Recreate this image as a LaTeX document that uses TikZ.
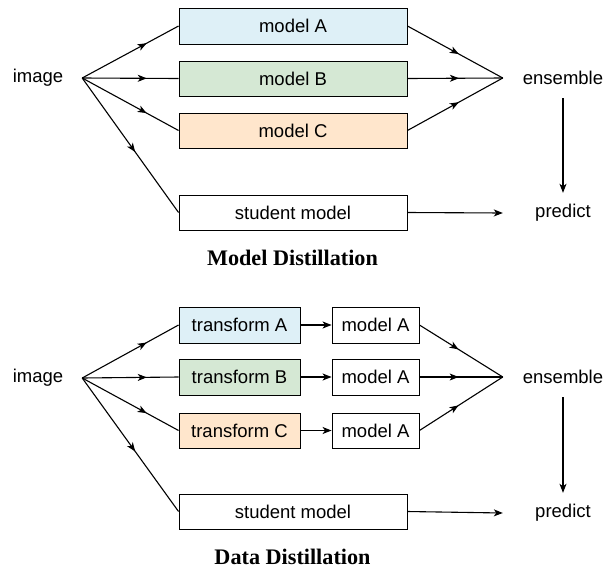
\documentclass[tikz,border=0pt]{standalone}
\usepackage{fontspec}
\setmainfont{Liberation Sans}
\newfontfamily\titlefont{Liberation Serif}
\usetikzlibrary{arrows.meta,decorations.markings}
\definecolor{cblue}{RGB}{222,240,247}
\definecolor{cgreen}{RGB}{213,232,212}
\definecolor{corange}{RGB}{255,230,204}
\tikzset{
  box/.style={draw=black, line width=0.9pt, inner sep=0pt, minimum height=36pt,
    font=\fontsize{18.5}{20}\selectfont, text=black},
  lbl/.style={inner sep=0pt, minimum height=40pt, font=\fontsize{18.5}{20}\selectfont},
  ttl/.style={inner sep=0pt, anchor=base, font=\titlefont\bfseries\fontsize{22.2}{24}\selectfont},
  conn/.style={line width=1.1pt},
  midarr/.style={conn, decoration={markings, mark=at position #1 with {\arrow{Stealth[length=9pt,width=7pt,inset=2.5pt]}}}, postaction={decorate}},
  endarr/.style={conn, -{Stealth[length=9pt,width=7pt,inset=2.5pt]}}
}
\begin{document}
\begin{tikzpicture}[x=1pt,y=-1pt]
\useasboundingbox (0,0) rectangle (613,568);
\fill[white] (0,0) rectangle (613,568);

% ---------- Model Distillation ----------
\node[lbl, minimum width=88pt] (img1) at (38,78) {image};
\node[box, fill=cblue, minimum width=228pt] (mA) at (293,26) {model A};
\node[box, fill=cgreen, minimum width=228pt, minimum height=35pt] (mB) at (293,78.5) {model B};
\node[box, fill=corange, minimum width=228pt, minimum height=35pt] (mC) at (293,130.5) {model C};
\node[box, fill=white, minimum width=228pt, minimum height=35pt] (st1) at (293,212.5) {student model};
\node[lbl, minimum width=120pt] (ens1) at (563,78) {ensemble};
\node[lbl, minimum width=120pt] (pr1) at (563,213) {predict};
\node[ttl] (t1) at (292.5,265) {Model Distillation};

\draw[midarr=0.67] (img1.east) -- (mA.west);
\draw[midarr=0.67] (img1.east) -- (mB.west);
\draw[midarr=0.67] (img1.east) -- (mC.west);
\draw[midarr=0.55] (img1.east) -- (st1.west);
\draw[midarr=0.54] (mA.east) -- (ens1.west);
\draw[midarr=0.54] (mB.east) -- (ens1.west);
\draw[midarr=0.54] (mC.east) -- (ens1.west);
\draw[endarr] (ens1.south) -- (pr1.north);
\draw[endarr] (st1.east) -- (pr1.west);

% ---------- Data Distillation ----------
\node[lbl, minimum width=88pt] (img2) at (38,378) {image};
\node[box, fill=cblue, minimum width=121pt] (tA) at (239.5,325) {transform A};
\node[box, fill=cgreen, minimum width=121pt] (tB) at (239.5,377) {transform B};
\node[box, fill=corange, minimum width=121pt, minimum height=35pt] (tC) at (239.5,430.5) {transform C};
\node[box, fill=white, minimum width=87pt] (dA) at (375.5,325) {model A};
\node[box, fill=white, minimum width=87pt] (dB) at (375.5,377) {model A};
\node[box, fill=white, minimum width=87pt, minimum height=35pt] (dC) at (375.5,430.5) {model A};
\node[box, fill=white, minimum width=228pt, minimum height=35pt] (st2) at (293,511.5) {student model};
\node[lbl, minimum width=120pt] (ens2) at (563,377) {ensemble};
\node[lbl, minimum width=120pt] (pr2) at (563,513) {predict};
\node[ttl] (t2) at (292.5,564) {Data Distillation};

\draw[midarr=0.67] (img2.east) -- (tA.west);
\draw[midarr=0.67] (img2.east) -- (tB.west);
\draw[midarr=0.67] (img2.east) -- (tC.west);
\draw[midarr=0.55] (img2.east) -- (st2.west);
\draw[endarr] (tA.east) -- (dA.west);
\draw[endarr] (tB.east) -- (dB.west);
\draw[endarr] (tC.east) -- (dC.west);
\draw[midarr=0.47] (dA.east) -- (ens2.west);
\draw[midarr=0.47] (dB.east) -- (ens2.west);
\draw[midarr=0.47] (dC.east) -- (ens2.west);
\draw[endarr] (ens2.south) -- (pr2.north);
\draw[endarr] (st2.east) -- (pr2.west);
\end{tikzpicture}
\end{document}
